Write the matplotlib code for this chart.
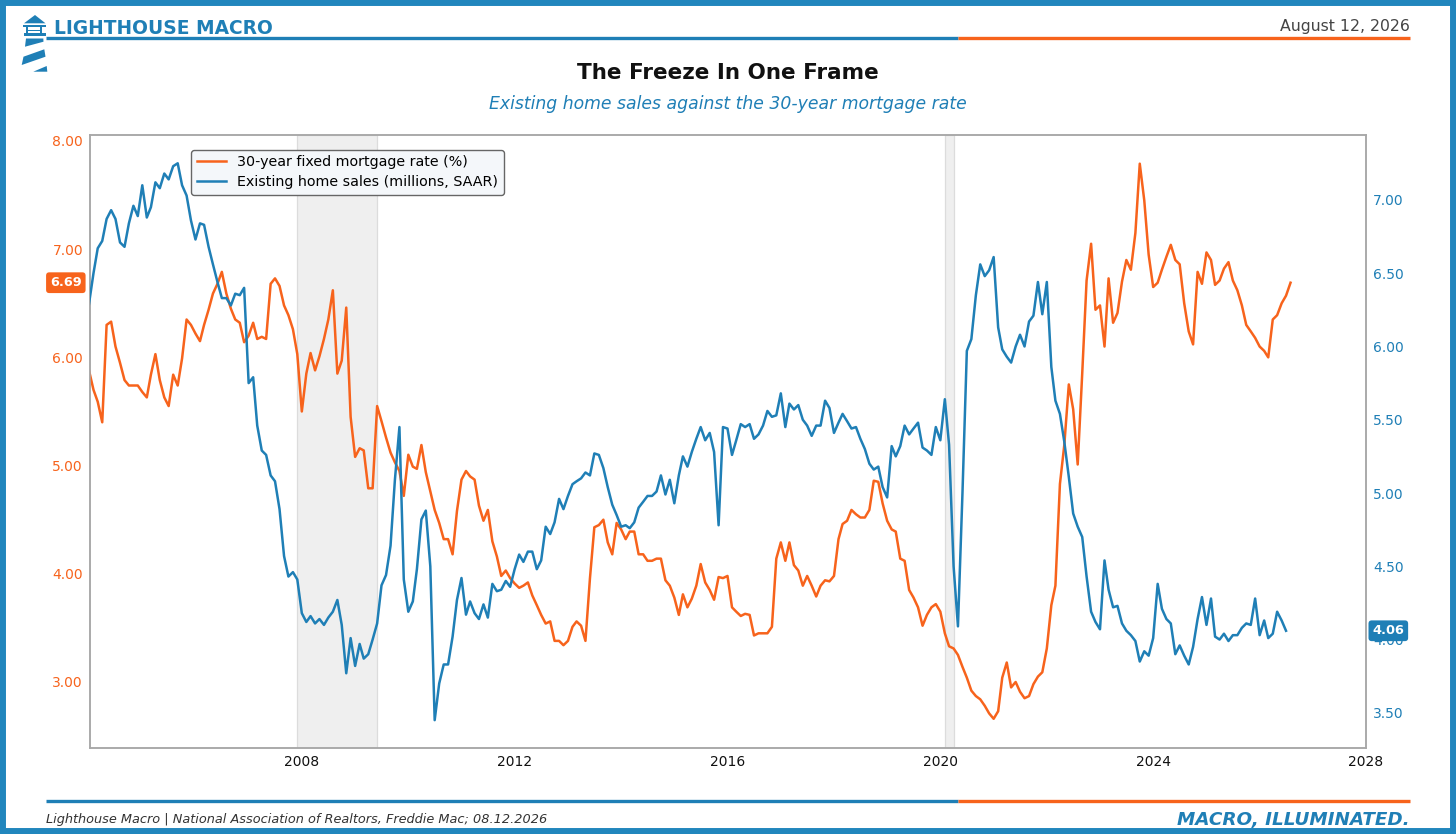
import matplotlib
matplotlib.use('Agg')
import matplotlib.pyplot as plt
import matplotlib.patches as mpatches
from matplotlib.lines import Line2D
from matplotlib.ticker import FormatStrFormatter
import pandas as pd

plt.rcParams['font.family'] = ['DejaVu Sans']

# ---------------- data ----------------
mortgage_rate = [
    5.88, 5.70, 5.59, 5.40, 6.30, 6.33, 6.10, 5.95, 5.79, 5.74,
    5.74, 5.74, 5.68, 5.63, 5.84, 6.03, 5.79, 5.63, 5.55, 5.84,
    5.74, 5.99, 6.35, 6.30, 6.22, 6.15, 6.30, 6.44, 6.59, 6.68,
    6.79, 6.59, 6.45, 6.35, 6.32, 6.14, 6.20, 6.32, 6.17, 6.19,
    6.17, 6.68, 6.73, 6.66, 6.48, 6.39, 6.26, 6.03, 5.50, 5.85,
    6.04, 5.88, 6.01, 6.17, 6.35, 6.62, 5.85, 5.97, 6.46, 5.45,
    5.08, 5.16, 5.14, 4.79, 4.79, 5.55, 5.41, 5.26, 5.12, 5.03,
    4.95, 4.72, 5.10, 4.99, 4.97, 5.19, 4.94, 4.76, 4.59, 4.47,
    4.32, 4.32, 4.18, 4.58, 4.87, 4.95, 4.90, 4.87, 4.63, 4.49,
    4.59, 4.30, 4.16, 3.98, 4.03, 3.96, 3.91, 3.87, 3.89, 3.92,
    3.80, 3.71, 3.62, 3.54, 3.56, 3.38, 3.38, 3.34, 3.38, 3.51,
    3.56, 3.52, 3.38, 3.96, 4.43, 4.45, 4.50, 4.29, 4.18, 4.47,
    4.41, 4.32, 4.39, 4.39, 4.18, 4.18, 4.12, 4.12, 4.14, 4.14,
    3.94, 3.89, 3.78, 3.62, 3.81, 3.69, 3.77, 3.89, 4.09, 3.92,
    3.85, 3.76, 3.97, 3.96, 3.98, 3.69, 3.65, 3.61, 3.63, 3.62,
    3.43, 3.45, 3.45, 3.45, 3.51, 4.14, 4.29, 4.12, 4.29, 4.08,
    4.03, 3.89, 3.98, 3.89, 3.79, 3.89, 3.94, 3.93, 3.98, 4.32,
    4.46, 4.49, 4.59, 4.55, 4.52, 4.52, 4.59, 4.86, 4.85, 4.65,
    4.49, 4.41, 4.39, 4.14, 4.12, 3.85, 3.78, 3.69, 3.52, 3.62,
    3.69, 3.72, 3.65, 3.45, 3.33, 3.31, 3.25, 3.14, 3.04, 2.92,
    2.87, 2.84, 2.78, 2.71, 2.66, 2.73, 3.04, 3.18, 2.95, 3.00,
    2.91, 2.85, 2.87, 2.98, 3.05, 3.09, 3.31, 3.71, 3.89, 4.83,
    5.19, 5.75, 5.52, 5.01, 5.85, 6.71, 7.05, 6.44, 6.48, 6.10,
    6.73, 6.32, 6.41, 6.70, 6.90, 6.81, 7.15, 7.79, 7.45, 6.95,
    6.65, 6.69, 6.81, 6.93, 7.04, 6.90, 6.86, 6.50, 6.24, 6.12,
    6.79, 6.68, 6.97, 6.90, 6.67, 6.71, 6.82, 6.88, 6.71, 6.62,
    6.48, 6.30, 6.24, 6.18, 6.10, 6.06, 6.00, 6.35, 6.39, 6.50,
    6.57, 6.69,
]

home_sales = [
    6.29, 6.50, 6.67, 6.72, 6.87, 6.93, 6.87, 6.71, 6.68, 6.84,
    6.96, 6.89, 7.10, 6.88, 6.95, 7.12, 7.08, 7.18, 7.14, 7.23,
    7.25, 7.10, 7.03, 6.86, 6.73, 6.84, 6.83, 6.68, 6.56, 6.44,
    6.33, 6.33, 6.28, 6.36, 6.35, 6.40, 5.75, 5.79, 5.46, 5.29,
    5.26, 5.12, 5.08, 4.89, 4.57, 4.43, 4.46, 4.41, 4.18, 4.12,
    4.16, 4.11, 4.14, 4.10, 4.15, 4.19, 4.27, 4.10, 3.77, 4.01,
    3.82, 3.97, 3.87, 3.90, 4.00, 4.11, 4.37, 4.44, 4.64, 5.09,
    5.45, 4.41, 4.19, 4.26, 4.48, 4.82, 4.88, 4.50, 3.45, 3.70,
    3.83, 3.83, 4.02, 4.27, 4.42, 4.17, 4.26, 4.18, 4.14, 4.24,
    4.15, 4.38, 4.33, 4.34, 4.40, 4.36, 4.48, 4.58, 4.53, 4.60,
    4.60, 4.48, 4.54, 4.77, 4.72, 4.80, 4.96, 4.89, 4.98, 5.06,
    5.08, 5.10, 5.14, 5.12, 5.27, 5.26, 5.17, 5.04, 4.92, 4.85,
    4.77, 4.78, 4.76, 4.80, 4.90, 4.94, 4.98, 4.98, 5.01, 5.12,
    4.99, 5.09, 4.93, 5.12, 5.25, 5.18, 5.28, 5.37, 5.45, 5.36,
    5.41, 5.28, 4.78, 5.45, 5.44, 5.26, 5.36, 5.47, 5.45, 5.47,
    5.37, 5.40, 5.46, 5.56, 5.52, 5.53, 5.68, 5.45, 5.61, 5.57,
    5.60, 5.50, 5.46, 5.39, 5.46, 5.46, 5.63, 5.58, 5.41, 5.48,
    5.54, 5.49, 5.44, 5.45, 5.37, 5.30, 5.20, 5.16, 5.18, 5.04,
    4.97, 5.32, 5.25, 5.32, 5.46, 5.40, 5.44, 5.48, 5.31, 5.29,
    5.26, 5.45, 5.36, 5.64, 5.33, 4.50, 4.09, 5.00, 5.97, 6.05,
    6.35, 6.56, 6.48, 6.52, 6.61, 6.13, 5.98, 5.93, 5.89, 6.00,
    6.08, 6.00, 6.17, 6.21, 6.44, 6.22, 6.44, 5.86, 5.63, 5.54,
    5.35, 5.11, 4.86, 4.77, 4.70, 4.43, 4.19, 4.12, 4.07, 4.54,
    4.34, 4.22, 4.23, 4.11, 4.06, 4.03, 3.99, 3.85, 3.92, 3.89,
    4.01, 4.38, 4.21, 4.14, 4.11, 3.90, 3.96, 3.89, 3.83, 3.95,
    4.14, 4.29, 4.10, 4.28, 4.02, 4.00, 4.04, 3.99, 4.03, 4.03,
    4.08, 4.11, 4.10, 4.28, 4.03, 4.13, 4.01, 4.04, 4.19, 4.13,
    4.06,
]

start_month = '2004-01-01'
mortgage_dates = pd.date_range(start_month, periods=len(mortgage_rate), freq='MS')
sales_dates = pd.date_range(start_month, periods=len(home_sales), freq='MS')

recessions = [('2007-12-01', '2009-06-01'), ('2020-02-01', '2020-04-01')]
x_tick_years = [2008, 2012, 2016, 2020, 2024, 2028]
left_ticks = [3.0, 4.0, 5.0, 6.0, 7.0, 8.0]
right_ticks = [3.5, 4.0, 4.5, 5.0, 5.5, 6.0, 6.5, 7.0]

mortgage_label = '30-year fixed mortgage rate (%)'
sales_label = 'Existing home sales (millions, SAAR)'

# ---------------- style ----------------
BLUE = '#1f7fb6'
ORANGE = '#f7631c'
W, H = 1456, 834

fig = plt.figure(figsize=(W / 100, H / 100), dpi=100)
fig.patch.set_facecolor('white')


def fx(px):
    return px / W


def fy(py):
    return 1 - py / H


ax = fig.add_axes([fx(90), fy(748), (1366 - 90) / W, (748 - 135) / H])
ax2 = ax.twinx()

for s, e in recessions:
    ax.axvspan(pd.Timestamp(s), pd.Timestamp(e), facecolor='#efefef',
               edgecolor='#dcdcdc', lw=0.9, zorder=0)

l1, = ax.plot(mortgage_dates, mortgage_rate, color=ORANGE, lw=1.8,
              label=mortgage_label, zorder=3)
l2, = ax2.plot(sales_dates, home_sales, color=BLUE, lw=1.8,
               label=sales_label, zorder=3)

ax.set_xlim(pd.Timestamp('2004-01-08'), pd.Timestamp('2028-01-01'))
ax.set_ylim(2.39, 8.055)
ax2.set_ylim(3.26, 7.443)

ax.set_xticks([pd.Timestamp(f'{y}-01-01') for y in x_tick_years])
ax.set_xticklabels([str(y) for y in x_tick_years])
ax.set_yticks(left_ticks)
ax2.set_yticks(right_ticks)
ax.yaxis.set_major_formatter(FormatStrFormatter('%.2f'))
ax2.yaxis.set_major_formatter(FormatStrFormatter('%.2f'))

ax.tick_params(axis='x', length=0, labelsize=10, pad=5, colors='#111111')
ax.tick_params(axis='y', length=0, labelsize=10, pad=5, labelcolor=ORANGE)
ax2.tick_params(axis='y', length=0, labelsize=10, pad=5, labelcolor=BLUE)

for a in (ax, ax2):
    for sp in a.spines.values():
        sp.set_color('#a8a8a8')
        sp.set_linewidth(1.1)
ax.grid(False)
ax2.grid(False)

leg = ax2.legend(handles=[l1, l2], loc='upper left', bbox_to_anchor=(0.0795, 0.976),
                 fontsize=10.3, frameon=True, fancybox=True, framealpha=1,
                 facecolor='#f4f7fa', edgecolor='#666666', borderpad=0.4,
                 labelspacing=0.38, handlelength=2.0, handletextpad=0.8,
                 borderaxespad=0)
leg.get_frame().set_linewidth(1.0)
leg.set_zorder(10)

# last-value tags
ax.text(-0.0065, mortgage_rate[-1], f'{mortgage_rate[-1]:.2f}',
        transform=ax.get_yaxis_transform(), ha='right', va='center',
        color='white', fontweight='bold', fontsize=9.3, clip_on=False, zorder=20,
        bbox=dict(boxstyle='round,pad=0.3,rounding_size=0.25', fc=ORANGE, ec='none'))
ax2.text(1.0050, home_sales[-1], f'{home_sales[-1]:.2f}',
         transform=ax2.get_yaxis_transform(), ha='left', va='center',
         color='white', fontweight='bold', fontsize=9.3, clip_on=False, zorder=20,
         bbox=dict(boxstyle='round,pad=0.3,rounding_size=0.25', fc=BLUE, ec='none'))

# ---------------- header / footer ----------------
fig.text(fx(54), fy(34), 'LIGHTHOUSE MACRO', color=BLUE, fontsize=13.4,
         fontweight='bold', ha='left', va='baseline')
fig.text(fx(1410), fy(30.5), 'August 12, 2026', color='#444444', fontsize=11.3,
         ha='right', va='baseline')
fig.text(0.5, fy(79), 'The Freeze In One Frame', color='#111111', fontsize=15.5,
         fontweight='bold', ha='center', va='baseline')
fig.text(0.5, fy(109), 'Existing home sales against the 30-year mortgage rate',
         color=BLUE, fontsize=12.4, fontstyle='italic', ha='center', va='baseline')

fig.text(fx(46), fy(823), 'Lighthouse Macro | National Association of Realtors, Freddie Mac; 08.12.2026',
         color='#333333', fontsize=9.3, fontstyle='italic', ha='left', va='baseline')
fig.text(fx(1410), fy(825), 'MACRO, ILLUMINATED.', color=BLUE, fontsize=13.2,
         fontweight='bold', fontstyle='italic', ha='right', va='baseline')

for yy in (37.5, 800.5):
    fig.add_artist(Line2D([fx(46), fx(958)], [fy(yy), fy(yy)], color=BLUE, lw=2.4,
                          solid_capstyle='butt'))
    fig.add_artist(Line2D([fx(958), fx(1410)], [fy(yy), fy(yy)], color=ORANGE, lw=2.4,
                          solid_capstyle='butt'))

# lighthouse logo
logo_shapes = [
    [(24, 23.3), (45.5, 23.3), (35, 15)],
    [(23.3, 24.8), (46, 24.8), (46, 26.8), (23.3, 26.8)],
    [(26, 27), (28.3, 27), (28.3, 34), (26, 34)],
    [(40, 27), (42.3, 27), (42.3, 34), (40, 34)],
    [(28.3, 30), (40, 30), (40, 31.3), (28.3, 31.3)],
    [(24, 33.3), (45.7, 33.3), (45.7, 36), (24, 36)],
    [(26, 38.5), (43.3, 38.5), (43.5, 41.7), (25, 46.7)],
    [(23.5, 56.7), (44.3, 49.3), (45.5, 56.7), (21.7, 65)],
    [(33.3, 71.7), (46.7, 66), (47.3, 71.7)],
]
for pts in logo_shapes:
    fig.add_artist(mpatches.Polygon([(fx(px), fy(py)) for px, py in pts], closed=True,
                                    transform=fig.transFigure, fc=BLUE, ec='none'))

# outer frame
fig.add_artist(mpatches.Rectangle((0, 0), 1, 1, transform=fig.transFigure, fill=False,
                                  ec='#2186bd', lw=8.6))

fig.savefig('out.png', dpi=100, facecolor='white')
